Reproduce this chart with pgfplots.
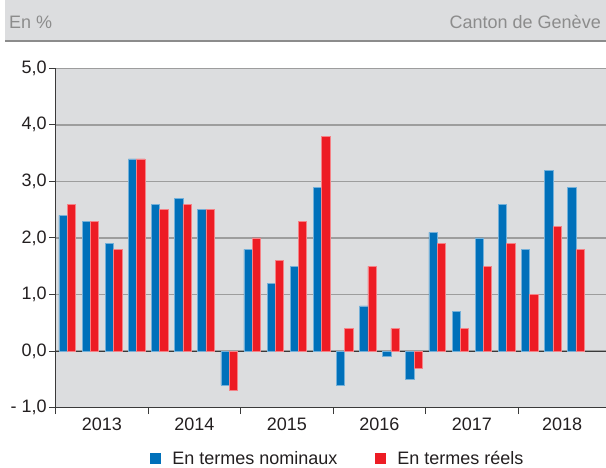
\documentclass[border=0pt]{standalone}
\usepackage{fontspec}
\setmainfont{Liberation Sans}
\usepackage{pgfplots}
\pgfplotsset{compat=1.18}
\definecolor{blueC}{HTML}{0070BA}
\definecolor{redC}{HTML}{ED1C24}
\definecolor{bgC}{HTML}{DCDDDF}
\definecolor{gridC}{HTML}{9D9D9D}
\definecolor{axC}{HTML}{3A3A3A}
\definecolor{txtC}{HTML}{231F20}
\definecolor{hdrC}{HTML}{8C8C8C}
\begin{document}
\begin{tikzpicture}[x=1pt,y=1pt]
\path[use as bounding box] (0,0) rectangle (606,468);
\fill[bgC] (5,427) rectangle (606,468);
\draw[hdrC, line width=1.3pt] (5,427) -- (606,427);
\node[anchor=base west, inner sep=0pt, text=hdrC, font=\fontsize{18}{21}\selectfont] at (9,439) {En \%};
\node[anchor=base east, inner sep=0pt, text=hdrC, font=\fontsize{18}{21}\selectfont] at (601,439) {Canton de Genève};
\begin{axis}[
  at={(55.7pt,60.3pt)}, anchor=south west,
  scale only axis, width=550.3pt, height=339.4pt,
  xmin=-0.5, xmax=23.3, ymin=-1, ymax=5,
  axis background/.style={fill=bgC},
  axis x line*=bottom, axis y line*=left,
  axis line style={-, axC, line width=1pt},
  ytick={-1,0,1,2,3,4,5},
  yticklabels={{- 1,0},{0,0},{1,0},{2,0},{3,0},{4,0},{5,0}},
  ymajorgrids, grid style={gridC, line width=1.3pt},
  xtick={-0.5,3.5,7.5,11.5,15.5,19.5},
  xticklabels={},
  tick align=outside, major tick length=6.5pt,
  tick style={axC, line width=1pt},
  extra x ticks={1.5,5.5,9.5,13.5,17.5,21.4},
  extra x tick labels={2013,2014,2015,2016,2017,2018},
  extra x tick style={major tick length=0pt, xticklabel style={yshift=-7pt}},
  extra y ticks={0}, extra y tick labels={},
  extra y tick style={grid style={axC, line width=1.2pt}, major tick length=0pt},
  /pgf/number format/assume math mode=true,
  tick label style={font=\fontsize{18}{21}\selectfont, text=txtC},
  yticklabel style={xshift=1pt},
  ybar=0pt, bar width=8.3pt,
  legend style={at={(0.512,-0.149)}, anchor=center, draw=none, fill=none,
    font=\fontsize{18}{21}\selectfont, text=txtC,
    nodes={inner sep=1pt},
    /tikz/every odd column/.append style={column sep=10pt},
    /tikz/every even column/.append style={column sep=37pt}},
  legend columns=2,
  legend image code/.code={\fill[#1,draw=none] (0pt,-5.5pt) rectangle (11pt,5.5pt);},
]
\addplot[fill=blueC, draw=blueC!55!white, line width=0.6pt] coordinates {
(0,2.4) (1,2.3) (2,1.9) (3,3.4) (4,2.6) (5,2.7) (6,2.5) (7,-0.6)
(8,1.8) (9,1.2) (10,1.5) (11,2.9) (12,-0.6) (13,0.8) (14,-0.1) (15,-0.5)
(16,2.1) (17,0.7) (18,2.0) (19,2.6) (20,1.8) (21,3.2) (22,2.9)};
\addplot[fill=redC, draw=redC!55!white, line width=0.6pt] coordinates {
(0,2.6) (1,2.3) (2,1.8) (3,3.4) (4,2.5) (5,2.6) (6,2.5) (7,-0.7)
(8,2.0) (9,1.6) (10,2.3) (11,3.8) (12,0.4) (13,1.5) (14,0.4) (15,-0.3)
(16,1.9) (17,0.4) (18,1.5) (19,1.9) (20,1.0) (21,2.2) (22,1.8)};
\legend{En termes nominaux, En termes réels}
\end{axis}
\end{tikzpicture}
\end{document}
